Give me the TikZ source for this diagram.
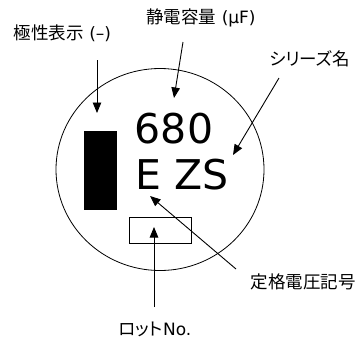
\documentclass[tikz,border=0pt]{standalone}
\usepackage{fontspec}
\setmainfont{DejaVu Sans}
\newfontfamily\jp[RawFeature=+palt]{Noto Sans CJK JP}
\newfontfamily\lat{DejaVu Sans}
\usetikzlibrary{arrows.meta}
\tikzset{
  arr/.style={line width=0.9pt,-{Triangle[length=10.5pt,width=8.5pt]}},
  lbl/.style={inner sep=0pt,font=\jp\fontsize{17.5}{20}\selectfont},
  big/.style={inner sep=0pt,anchor=base,font=\fontsize{41}{46}\selectfont},
  outline/.style={line width=0.8pt}
}
\newcommand{\lt}[1]{{\lat\fontsize{17}{20}\selectfont #1}}
\begin{document}
\begin{tikzpicture}[x=1pt,y=-1pt]
\useasboundingbox (0,0) rectangle (358,338);
% capacitor top
\draw[outline] (160,169.5) ellipse [x radius=104, y radius=101];
\node[draw,fill=black,minimum width=32pt,minimum height=78pt,inner sep=0pt] (pol) at (100,170) {};
\node[draw,line width=0.8pt,minimum width=62pt,minimum height=26pt,inner sep=0pt] (lot) at (160,230) {};
\node[big] (cap) at (174,143) {680};
\node[big] (ser) at (182.5,189) {E ZS};
% labels
\node[lbl] (lpol) at (62.5,33) {極性表示\lt{ (–)}};
\node[lbl] (lcap) at (201,18) {静電容量\lt{ (μF)}};
\node[lbl] (lser) at (309.5,58.5) {シリーズ名};
\node[lbl] (lvol) at (303,281.5) {定格電圧記号};
\node[lbl] (llot) at (155,329) {ロット\lt{No.}};
% arrow ends
\coordinate (a1s) at (97,60);   \coordinate (a1t) at (97,113);
\coordinate (a2s) at (183,42);  \coordinate (a2t) at (174,98);
\coordinate (a3s) at (279,78);  \coordinate (a3t) at (233,155);
\coordinate (a4s) at (236,269); \coordinate (a4t) at (150,196);
\coordinate (a5s) at (154,307); \coordinate (a5t) at (154,227);
\draw[arr] (a1s) -- (a1t);
\draw[arr] (a2s) -- (a2t);
\draw[arr] (a3s) -- (a3t);
\draw[arr] (a4s) -- (a4t);
\draw[arr] (a5s) -- (a5t);
\end{tikzpicture}
\end{document}
